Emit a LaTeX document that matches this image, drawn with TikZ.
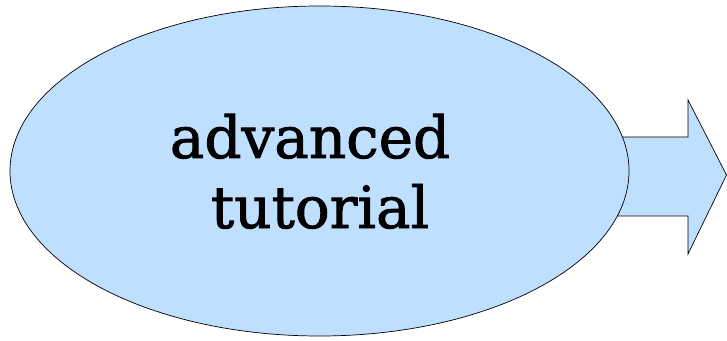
\documentclass[tikz,border=0pt]{standalone}
\usepackage{fontspec}
\newfontfamily\labelfont[FakeBold=1.5]{DejaVu Serif}
\usetikzlibrary{shapes.geometric}
\definecolor{paleblue}{RGB}{191,223,255}
\tikzset{
  shapeline/.style={draw=black, line width=0.7pt, fill=paleblue, line join=miter},
  label/.style={inner sep=0pt, anchor=base, font=\labelfont\fontsize{58}{70}\selectfont}
}
\begin{document}
\begin{tikzpicture}[x=1pt,y=1pt]
  \useasboundingbox (0,0) rectangle (727,340);
  % block arrow leaving the ellipse to the right
  \coordinate (tip) at (726.5,165);
  \draw[shapeline] (610,203) -- (688,203) -- (688,240) -- (tip)
    -- (688,86) -- (688,124) -- (610,124) -- cycle;
  % the ellipse
  \node[shapeline, ellipse, minimum width=619pt, minimum height=330pt,
        inner sep=0pt] (blob) at (319.5,169) {};
  \node[label] (l1) at (310,182) {advanced};
  \node[label] (l2) at (320,112) {tutorial};
\end{tikzpicture}
\end{document}
